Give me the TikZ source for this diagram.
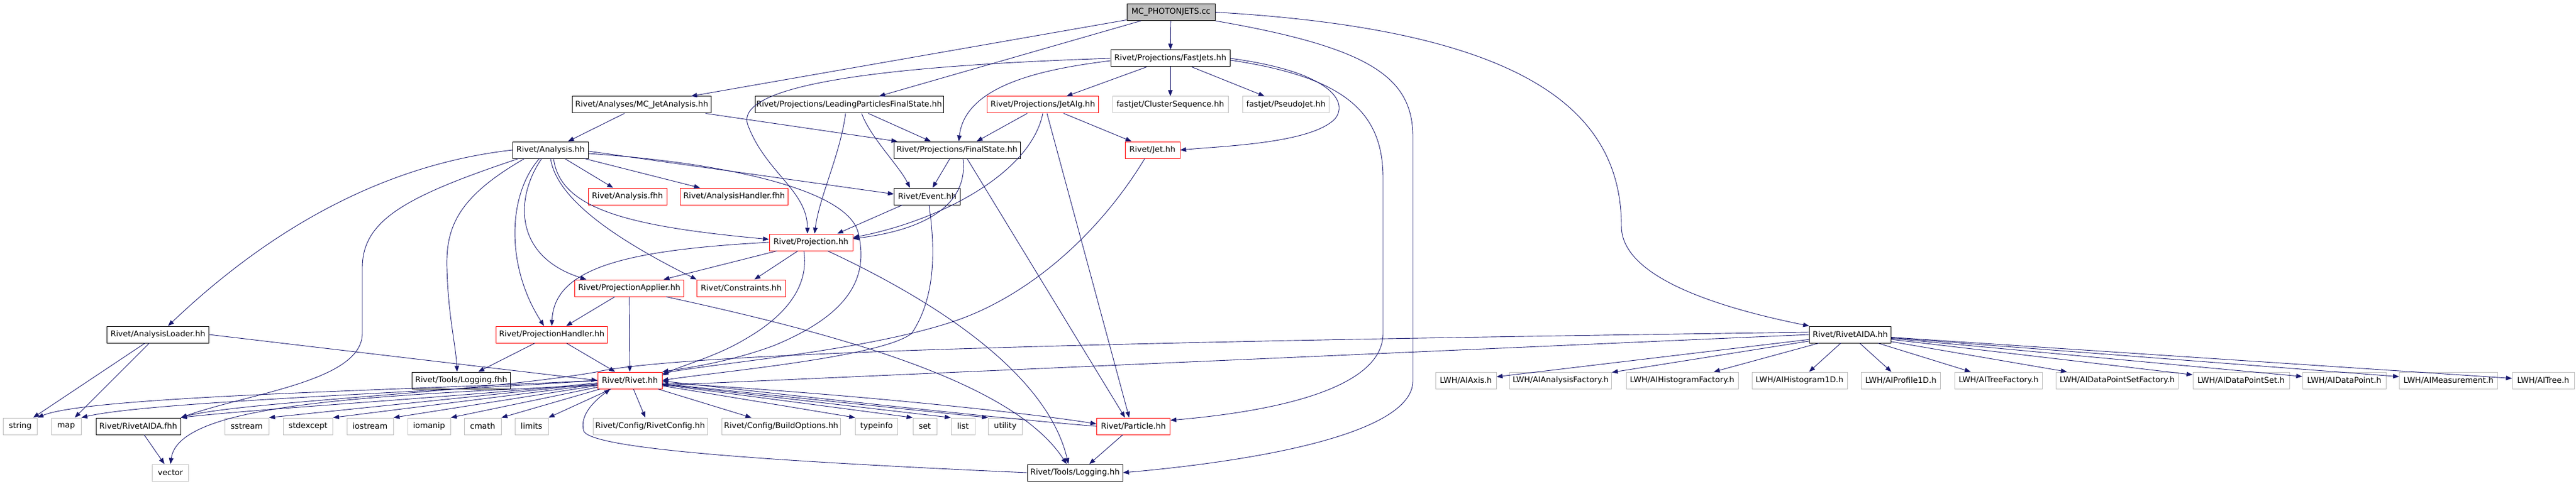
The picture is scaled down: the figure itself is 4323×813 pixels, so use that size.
\documentclass[tikz,border=0pt]{standalone}
\usepackage{fontspec}
\setmainfont{DejaVu Sans}
\usetikzlibrary{arrows.meta}
\definecolor{edgeblue}{HTML}{191970}
\definecolor{boxgray}{HTML}{BFBFBF}

\begin{document}
\begin{tikzpicture}[x=1pt, y=-1pt,
        file/.style={draw=black, line width=1pt, minimum height=28pt, inner sep=0pt, font=\fontsize{13.3}{15}\selectfont},
        redfile/.style={file, draw=red},
        sysfile/.style={file, draw=boxgray},
        dep/.style={draw=edgeblue, line width=0.9pt, -{Triangle[length=10pt,width=7.5pt]}}]
        \useasboundingbox (0,0) rectangle (4323,813);

        % Source file
        \node[file, fill=boxgray, minimum width=148pt] (root) at (1965,20.5) {MC\_PHOTONJETS.cc};

        % Headers
        \node[file, minimum width=200pt] (fastjets) at (1964,98) {Rivet/Projections/FastJets.hh};
        \node[file, minimum width=233pt] (mcjet) at (1077,176) {Rivet/Analyses/MC\_JetAnalysis.hh};
        \node[file, minimum width=316pt] (leading) at (1425,176) {Rivet/Projections/LeadingParticlesFinalState.hh};
        \node[redfile, minimum width=187pt] (jetalg) at (1750,176) {Rivet/Projections/JetAlg.hh};
        \node[sysfile, minimum width=194pt] (clseq) at (1964,176) {fastjet/ClusterSequence.hh};
        \node[sysfile, minimum width=145pt] (pseudo) at (2158,176) {fastjet/PseudoJet.hh};
        \node[file, minimum width=127pt] (analysis) at (924,252) {Rivet/Analysis.hh};
        \node[file, minimum width=212pt] (finalstate) at (1606,252) {Rivet/Projections/FinalState.hh};
        \node[redfile, minimum width=92pt] (jet) at (1934,252) {Rivet/Jet.hh};
        \node[redfile, minimum width=132pt] (anafhh) at (1053,330) {Rivet/Analysis.fhh};
        \node[redfile, minimum width=181pt] (anahandler) at (1232,330) {Rivet/AnalysisHandler.fhh};
        \node[file, minimum width=111pt] (event) at (1556,330) {Rivet/Event.hh};
        \node[redfile, minimum width=140pt] (projection) at (1361,407) {Rivet/Projection.hh};
        \node[redfile, minimum width=183pt] (projapplier) at (1056,484) {Rivet/ProjectionApplier.hh};
        \node[redfile, minimum width=149pt] (constraints) at (1244,484) {Rivet/Constraints.hh};
        \node[file, minimum width=171pt] (loader) at (265,562) {Rivet/AnalysisLoader.hh};
        \node[redfile, minimum width=187pt] (projhandler) at (926,562) {Rivet/ProjectionHandler.hh};
        \node[file, minimum width=137pt] (rivetaida) at (3105,562) {Rivet/RivetAIDA.hh};
        \node[file, minimum width=165pt] (loggingfhh) at (774,639) {Rivet/Tools/Logging.fhh};
        \node[redfile, minimum width=108pt] (rivet) at (1057,639) {Rivet/Rivet.hh};
        \node[file, minimum width=142pt] (aidafhh) at (232,716) {Rivet/RivetAIDA.fhh};
        \node[redfile, minimum width=123pt] (particle) at (1902,716) {Rivet/Particle.hh};
        \node[file, minimum width=160pt] (logginghh) at (1804,794) {Rivet/Tools/Logging.hh};

        % LWH headers
        \node[sysfile, minimum width=102pt] (axis) at (2460,639) {LWH/AIAxis.h};
        \node[sysfile, minimum width=171pt] (anafactory) at (2619,639) {LWH/AIAnalysisFactory.h};
        \node[sysfile, minimum width=188pt] (histfactory) at (2823,639) {LWH/AIHistogramFactory.h};
        \node[sysfile, minimum width=160pt] (hist) at (3020,639) {LWH/AIHistogram1D.h};
        \node[sysfile, minimum width=133pt] (profile) at (3190,639) {LWH/AIProfile1D.h};
        \node[sysfile, minimum width=147pt] (treefactory) at (3354,639) {LWH/AITreeFactory.h};
        \node[sysfile, minimum width=205pt] (dpsfactory) at (3553,639) {LWH/AIDataPointSetFactory.h};
        \node[sysfile, minimum width=162pt] (dps) at (3761,639) {LWH/AIDataPointSet.h};
        \node[sysfile, minimum width=140pt] (datapoint) at (3934,639) {LWH/AIDataPoint.h};
        \node[sysfile, minimum width=165pt] (measurement) at (4109,639) {LWH/AIMeasurement.h};
        \node[sysfile, minimum width=104pt] (tree) at (4268,639) {LWH/AITree.h};

        % System headers
        \node[sysfile, minimum width=57pt] (string) at (34,716) {string};
        \node[sysfile, minimum width=50pt] (map) at (111,716) {map};
        \node[sysfile, minimum width=74pt] (sstream) at (414,716) {sstream};
        \node[sysfile, minimum width=83pt] (stdexcept) at (517,716) {stdexcept};
        \node[sysfile, minimum width=78pt] (iostream) at (621,716) {iostream};
        \node[sysfile, minimum width=72pt] (iomanip) at (720,716) {iomanip};
        \node[sysfile, minimum width=62pt] (cmath) at (810,716) {cmath};
        \node[sysfile, minimum width=56pt] (limits) at (892,716) {limits};
        \node[sysfile, minimum width=192pt] (rivetconfig) at (1091,716) {Rivet/Config/RivetConfig.hh};
        \node[sysfile, minimum width=199pt] (buildopts) at (1311,716) {Rivet/Config/BuildOptions.hh};
        \node[sysfile, minimum width=71pt] (typeinfo) at (1471,716) {typeinfo};
        \node[sysfile, minimum width=40pt] (set) at (1552,716) {set};
        \node[sysfile, minimum width=40pt] (list) at (1616,716) {list};
        \node[sysfile, minimum width=57pt] (utility) at (1687,716) {utility};
        \node[sysfile, minimum width=61pt] (vector) at (286,794) {vector};

        % Includes of the source file
        \draw[dep] (root) -- (fastjets);
        \draw[dep] (root) -- (mcjet);
        \draw[dep] (root) -- (leading);
        \draw[dep] (root.east) .. controls (2550,50) and (2721,180) .. (2721,380) .. controls (2721,470) and (2900,520) .. (rivetaida.north west);
        \draw[dep] (root.south east) .. controls (2300,80) and (2371,130) .. (2371,230) -- (2371,640) .. controls (2371,730) and (2100,775) .. (logginghh.east);

        % FastJets
        \draw[dep] (fastjets) -- (jetalg);
        \draw[dep] (fastjets) -- (clseq);
        \draw[dep] (fastjets) -- (pseudo);
        \draw[dep] (fastjets.east) .. controls (2230,120) and (2265,170) .. (2240,200) .. controls (2200,240) and (2060,245) .. (jet.east);
        \draw[dep] ([yshift=-3pt]fastjets.east) .. controls (2260,130) and (2321,190) .. (2321,300) -- (2321,560) .. controls (2321,650) and (2150,690) .. ([yshift=10pt]particle.east);
        \draw[dep] ([yshift=-4pt]fastjets.west) .. controls (1760,115) and (1620,140) .. ([xshift=3pt]finalstate.north);
        \draw[dep] (fastjets.west) .. controls (1500,110) and (1230,140) .. (1255,210) .. controls (1285,290) and (1355,320) .. ([xshift=-6pt]projection.north);

        % Analyses and projections
        \draw[dep] (mcjet) -- (analysis);
        \draw[dep] ([xshift=-10pt]mcjet.south east) -- ([xshift=-100pt]finalstate.north);
        \draw[dep] (leading) -- ([xshift=-44pt]finalstate.north);
        \draw[dep] ([xshift=21pt]leading.south) .. controls (1460,230) and (1510,280) .. ([xshift=-29pt]event.north);
        \draw[dep] ([xshift=-6pt]leading.south) .. controls (1410,260) and (1375,330) .. ([xshift=6pt]projection.north);
        \draw[dep] (jetalg) -- ([xshift=33pt]finalstate.north);
        \draw[dep] (jetalg) -- (jet);
        \draw[dep] (jetalg.south) .. controls (1730,290) and (1580,370) .. ([yshift=8pt]projection.east);
        \draw[dep] ([xshift=7pt]jetalg.south) -- ([xshift=-7pt]particle.north);
        \draw[dep] ([xshift=-12pt]finalstate.south) -- ([xshift=9pt]event.north);
        \draw[dep] ([xshift=10pt]finalstate.south) .. controls (1625,340) and (1560,385) .. ([yshift=6pt]projection.east);
        \draw[dep] ([xshift=17pt]finalstate.south) -- ([xshift=-14pt]particle.north);

        % Analysis
        \draw[dep] (analysis.west) .. controls (700,270) and (500,340) .. ([xshift=17pt]loader.north);
        \draw[dep] ([xshift=-54pt]analysis.south) .. controls (680,330) and (608,370) .. (608,450) -- (608,560) .. controls (608,640) and (420,660) .. (aidafhh.north east);
        \draw[dep] ([xshift=-44pt]analysis.south) .. controls (770,330) and (748,380) .. (750,450) .. controls (752,530) and (765,580) .. ([xshift=-7pt]loggingfhh.north);
        \draw[dep] ([xshift=-19pt]analysis.south) .. controls (850,330) and (850,450) .. ([xshift=-13pt]projhandler.north);
        \draw[dep] ([xshift=-15pt]analysis.south) .. controls (865,330) and (860,430) .. ([xshift=-72pt]projapplier.north);
        \draw[dep] (analysis.south) .. controls (935,340) and (1050,410) .. ([xshift=-75pt]constraints.north);
        \draw[dep] ([xshift=5pt]analysis.south) .. controls (940,350) and (1050,380) .. ([yshift=5pt]projection.west);
        \draw[dep] (analysis) -- (anafhh);
        \draw[dep] (analysis) -- (anahandler);
        \draw[dep] ([yshift=-2pt]analysis.east) -- ([yshift=4pt]event.west);
        \draw[dep] ([yshift=-6pt]analysis.east) .. controls (1200,272) and (1420,315) .. (1440,390) .. controls (1460,470) and (1420,530) .. (1300,580) .. controls (1220,610) and (1140,620) .. (rivet.north east);

        % Event, Jet and Projection
        \draw[dep] ([xshift=-42pt]event.south) -- ([xshift=44pt]projection.north);
        \draw[dep] ([xshift=3pt]event.south) .. controls (1570,420) and (1570,500) .. (1530,560) .. controls (1480,600) and (1200,625) .. (rivet.east);
        \draw[dep] ([xshift=-13pt]jet.south) .. controls (1840,400) and (1720,500) .. (1600,540) .. controls (1450,590) and (1200,610) .. ([yshift=-3pt]rivet.north east);
        \draw[dep] (projection) -- (projapplier);
        \draw[dep] (projection) -- (constraints);
        \draw[dep] (projection.west) .. controls (1050,420) and (930,450) .. (projhandler.north);
        \draw[dep] ([xshift=-12pt]projection.south) .. controls (1358,480) and (1320,530) .. (1250,570) .. controls (1200,600) and (1140,615) .. ([yshift=-6pt]rivet.north east);
        \draw[dep] ([xshift=28pt]projection.south) .. controls (1600,520) and (1760,640) .. ([xshift=-11pt]logginghh.north);

        % Projection applier and handler
        \draw[dep] (projapplier) -- (projhandler);
        \draw[dep] (projapplier) -- (rivet);
        \draw[dep] ([xshift=62pt]projapplier.south) .. controls (1400,560) and (1700,640) .. ([xshift=-14pt]logginghh.north);
        \draw[dep] (projhandler) -- (loggingfhh);
        \draw[dep] (projhandler) -- (rivet);

        % Analysis loader
        \draw[dep] (loader) -- (string);
        \draw[dep] (loader) -- (map);
        \draw[dep] (loader.east) -- (rivet.west);

        % RivetAIDA
        \draw[dep] (rivetaida.west) -- ([yshift=-8pt]rivet.east);
        \draw[dep] ([yshift=4pt]rivetaida.west) .. controls (2000,572) and (1150,590) .. (1000,625) .. controls (800,660) and (400,675) .. (aidafhh.north east);
        \draw[dep] (rivetaida) -- (axis);
        \draw[dep] (rivetaida) -- (anafactory);
        \draw[dep] (rivetaida) -- (histfactory);
        \draw[dep] (rivetaida) -- (hist);
        \draw[dep] (rivetaida) -- (profile);
        \draw[dep] (rivetaida) -- (treefactory);
        \draw[dep] (rivetaida) -- (dpsfactory);
        \draw[dep] (rivetaida) -- (dps);
        \draw[dep] (rivetaida) -- (datapoint);
        \draw[dep] (rivetaida) -- (measurement);
        \draw[dep] (rivetaida) -- (tree);

        % Rivet.hh
        \draw[dep] (rivet.west) .. controls (700,655) and (150,665) .. (string.north east);
        \draw[dep] (rivet.west) .. controls (700,660) and (250,675) .. (map.north east);
        \draw[dep] ([yshift=-4pt]rivet.west) .. controls (800,665) and (450,685) .. (aidafhh.north east);
        \draw[dep] ([yshift=-8pt]rivet.west) .. controls (600,665) and (300,680) .. (vector.north);
        \draw[dep] (rivet) -- (sstream.north east);
        \draw[dep] (rivet) -- (stdexcept.north east);
        \draw[dep] (rivet) -- (iostream.north east);
        \draw[dep] (rivet) -- (iomanip.north east);
        \draw[dep] (rivet) -- (cmath.north east);
        \draw[dep] (rivet) -- (limits.north east);
        \draw[dep] (rivet) -- ([xshift=-8pt]rivetconfig.north);
        \draw[dep] (rivet) -- ([xshift=-50pt]buildopts.north);
        \draw[dep] (rivet) -- (typeinfo.north west);
        \draw[dep] (rivet) -- (set.north west);
        \draw[dep] (rivet) -- (list.north west);
        \draw[dep] (rivet) -- (utility.north west);
        \draw[dep] ([yshift=-4pt]rivet.east) .. controls (1400,660) and (1700,690) .. ([yshift=4pt]particle.west);
        \draw[dep] (particle.west) .. controls (1700,705) and (1400,672) .. ([yshift=-1pt]rivet.east);
        \draw[dep] (aidafhh) -- (vector);
        \draw[dep] ([xshift=-18pt]particle.south) -- ([xshift=24pt]logginghh.north);
        \draw[dep] (logginghh.west) .. controls (1300,775) and (1000,755) .. (980,725) .. controls (970,695) and (1005,668) .. ([xshift=-33pt]rivet.south);
\end{tikzpicture}
\end{document}
